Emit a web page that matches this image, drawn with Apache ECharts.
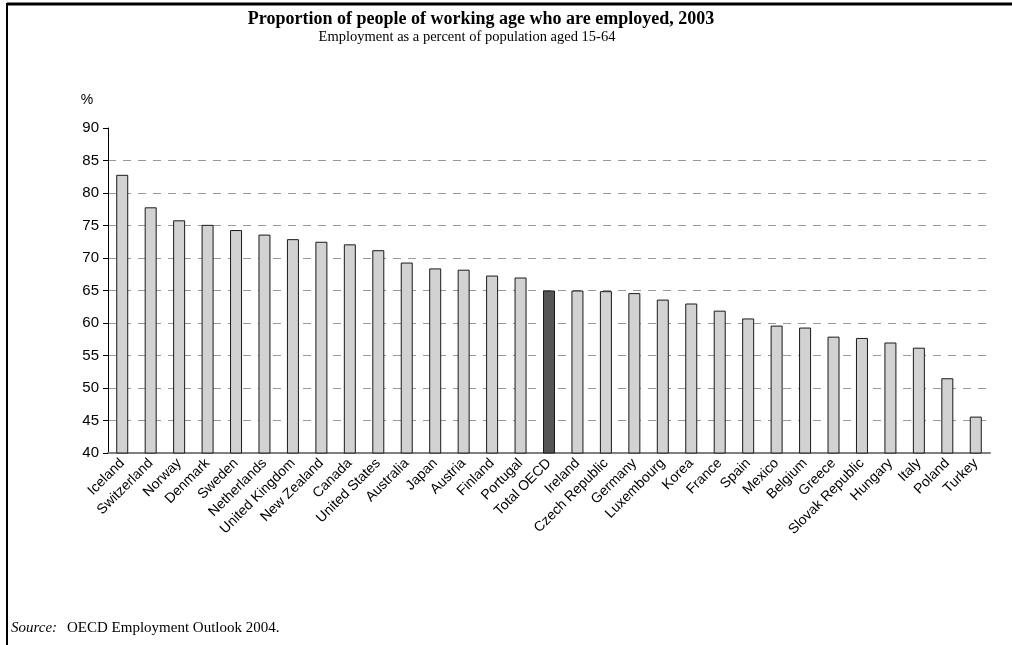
<!DOCTYPE html>
<html>
<head>
<meta charset="utf-8">
<script src="https://cdn.jsdelivr.net/npm/echarts@6/dist/echarts.min.js"></script>
<style>
html,body{margin:0;padding:0;background:#fff;}
#chart{width:1012px;height:645px;}
</style>
</head>
<body>
<div id="chart"></div>
<script>
const categories = ['Iceland','Switzerland','Norway','Denmark','Sweden','Netherlands','United Kingdom','New Zealand','Canada','United States','Australia','Japan','Austria','Finland','Portugal','Total OECD','Ireland','Czech Republic','Germany','Luxembourg','Korea','France','Spain','Mexico','Belgium','Greece','Slovak Republic','Hungary','Italy','Poland','Turkey'];
const values = [82.8,77.8,75.8,75.1,74.3,73.6,72.9,72.5,72.1,71.2,69.3,68.4,68.2,67.3,67.0,65.0,65.0,64.9,64.6,63.6,63.0,61.9,60.7,59.6,59.3,57.9,57.7,57.0,56.2,51.5,45.6];
const highlightCategory = 'Total OECD';
const yMin = 40, yMax = 90, yStep = 5;
const titleText = 'Proportion of people of working age who are employed, 2003';
const subtitleText = 'Employment as a percent of population aged 15-64';
const unitText = '%';
const sourceLabel = 'Source:';
const sourceText = 'OECD Employment Outlook 2004.';

const chart = echarts.init(document.getElementById('chart'), null, {renderer:'canvas'});
const nLines = Math.round((yMax - yMin) / yStep) + 1;
const splitColors = [];
for (let i = 0; i < nLines; i++) splitColors.push((i === 0 || i === nLines - 1) ? 'rgba(0,0,0,0)' : '#999999');

const option = {
  backgroundColor: '#ffffff',
  animation: false,
  title: [
    {text: titleText, left: 476, top: 5, textAlign: 'center',
     textStyle: {fontFamily: 'Liberation Serif', fontWeight: 'bold', fontSize: 18, color: '#000'}},
    {text: subtitleText, left: 462, top: 25, textAlign: 'center',
     textStyle: {fontFamily: 'Liberation Serif', fontWeight: 'normal', fontSize: 14.5, color: '#000'}}
  ],
  grid: {left: 108, right: 22, top: 128, bottom: 192, containLabel: false},
  xAxis: {
    type: 'category',
    data: categories,
    axisLine: {show: true, lineStyle: {color: '#808080', width: 2}},
    axisTick: {show: false},
    axisLabel: {interval: 0, rotate: 45, margin: 8, fontFamily: 'Liberation Sans', fontSize: 14, color: '#000'},
    splitLine: {show: false}
  },
  yAxis: {
    type: 'value',
    min: yMin, max: yMax, interval: yStep,
    axisLine: {show: true, lineStyle: {color: '#000', width: 1}},
    axisTick: {show: true, length: 5, lineStyle: {color: '#000'}},
    axisLabel: {margin: 9, fontFamily: 'Liberation Sans', fontSize: 15, color: '#000'},
    splitLine: {show: true, lineStyle: {color: splitColors, type: [8, 7], width: 1}}
  },
  series: [{
    type: 'bar',
    barWidth: 12,
    data: values.map((v, i) => ({
      value: v,
      itemStyle: {color: categories[i] === highlightCategory ? '#555555' : '#d2d2d2'}
    })),
    itemStyle: {borderColor: '#1a1a1a', borderWidth: 1}
  }],
  graphic: [
    {type: 'line', shape: {x1: 7, y1: 4, x2: 1012, y2: 4}, style: {stroke: '#000', lineWidth: 3}},
    {type: 'line', shape: {x1: 7, y1: 3, x2: 7, y2: 645}, style: {stroke: '#000', lineWidth: 2}},
    {type: 'text', x: 87, y: 100, style: {text: unitText, font: '14px "Liberation Sans"', fill: '#000', textAlign: 'center', textVerticalAlign: 'middle'}},
    {type: 'text', x: 11, y: 628, style: {text: sourceLabel, font: 'italic 15px "Liberation Serif"', fill: '#000', textAlign: 'left', textVerticalAlign: 'middle'}},
    {type: 'text', x: 67, y: 628, style: {text: sourceText, font: '15px "Liberation Serif"', fill: '#000', textAlign: 'left', textVerticalAlign: 'middle'}}
  ]
};
chart.setOption(option);
</script>
</body>
</html>
